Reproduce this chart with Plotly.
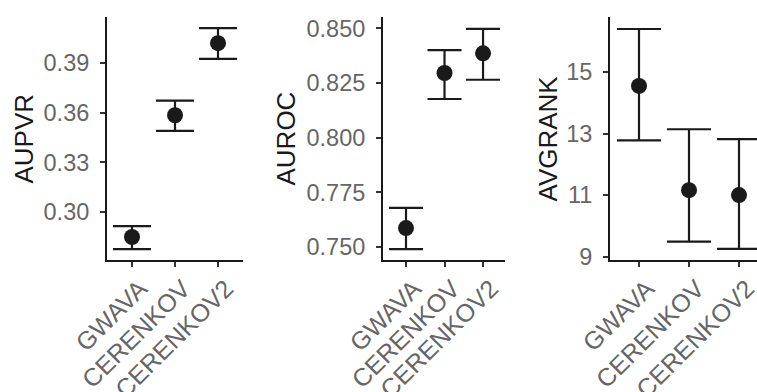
import plotly.graph_objects as go

methods = ["GWAVA", "CERENKOV", "CERENKOV2"]

aupvr = [0.2849, 0.3585, 0.4021]
aupvr_lo = [0.2776, 0.3491, 0.3926]
aupvr_hi = [0.2915, 0.3674, 0.4112]

auroc = [0.7587, 0.8296, 0.8386]
auroc_lo = [0.7491, 0.8177, 0.8265]
auroc_hi = [0.7679, 0.8401, 0.8498]

avgrank = [14.55, 11.16, 11.00]
avgrank_lo = [12.78, 9.49, 9.25]
avgrank_hi = [16.40, 13.14, 12.82]

aupvr_ticks = [0.30, 0.33, 0.36, 0.39]
auroc_ticks = [0.750, 0.775, 0.800, 0.825, 0.850]
avgrank_ticks = [9, 11, 13, 15]

W, H = 757, 392
FONT = "Liberation Sans, Arial, sans-serif"
INK = "#1a1a1a"
TICKCOL = "#666666"

panels = [
    dict(vals=aupvr, lo=aupvr_lo, hi=aupvr_hi, title="AUPVR", ticks=aupvr_ticks, fmt=".2f",
         dom=(107, 243), xr=(-0.581, 2.581), yr=(0.2710, 0.4179), cap=19, tx=23),
    dict(vals=auroc, lo=auroc_lo, hi=auroc_hi, title="AUROC", ticks=auroc_ticks, fmt=".3f",
         dom=(383, 505), xr=(-0.597, 2.57), yr=(0.7441, 0.8552), cap=17, tx=285),
    dict(vals=avgrank, lo=avgrank_lo, hi=avgrank_hi, title="AVGRANK", ticks=avgrank_ticks, fmt="d",
         dom=(610, 757), xr=(-0.58, 2.36), yr=(8.89, 16.79), cap=22, tx=547),
]

top_px, bot_px = 17, 260
ydom = [1 - bot_px / H, 1 - top_px / H]

fig = go.Figure()
layout = dict(
    width=W, height=H,
    margin=dict(l=0, r=0, t=0, b=0, autoexpand=False),
    plot_bgcolor="white", paper_bgcolor="white",
    showlegend=False,
    font=dict(family=FONT),
    annotations=[],
)

for i, p in enumerate(panels):
    n = "" if i == 0 else str(i + 1)
    plus = [h - v for h, v in zip(p["hi"], p["vals"])]
    minus = [v - l for v, l in zip(p["vals"], p["lo"])]
    fig.add_trace(go.Scatter(
        x=methods, y=p["vals"], mode="markers",
        marker=dict(size=16, color=INK),
        error_y=dict(type="data", symmetric=False, array=plus, arrayminus=minus,
                     color=INK, thickness=2.2, width=p["cap"]),
        xaxis="x" + n, yaxis="y" + n, cliponaxis=False,
    ))
    layout["xaxis" + n] = dict(
        domain=[p["dom"][0] / W, min(1.0, p["dom"][1] / W)],
        anchor="y" + n, type="category", range=list(p["xr"]),
        automargin=False,
        showline=True, linecolor=INK, linewidth=2,
        ticks="outside", ticklen=5, tickwidth=1.5, tickcolor="#333333",
        tickangle=-45, ticklabelshift=8, ticklabelstandoff=-3,
        tickfont=dict(size=25, color=TICKCOL, family=FONT),
        showgrid=False, zeroline=False,
    )
    layout["yaxis" + n] = dict(
        domain=ydom, anchor="x" + n, range=list(p["yr"]),
        automargin=False,
        showline=True, linecolor=INK, linewidth=2,
        ticks="outside", ticklen=5, tickwidth=1.5, tickcolor="#333333",
        tickvals=p["ticks"], tickformat=p["fmt"], ticklabelstandoff=6,
        tickfont=dict(size=23.5, color=TICKCOL, family=FONT),
        showgrid=False, zeroline=False,
    )
    layout["annotations"].append(dict(
        text=p["title"], x=p["tx"] / W, y=1 - 138.5 / H, xref="paper", yref="paper",
        textangle=-90, showarrow=False, xanchor="center", yanchor="middle",
        font=dict(size=26, color=INK, family=FONT),
    ))

fig.update_layout(**layout)
fig.write_html("out.html")
